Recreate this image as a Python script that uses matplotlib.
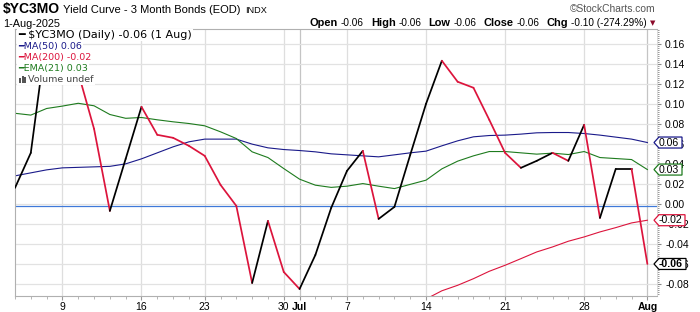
import numpy as np
import pandas as pd
import matplotlib
matplotlib.use("Agg")
import matplotlib.pyplot as plt
from matplotlib.collections import LineCollection
from matplotlib.patches import Polygon, Rectangle
from matplotlib.transforms import IdentityTransform

plt.rcParams['axes.unicode_minus'] = False

# trading days shown (Jun 19 and Jul 4 are market holidays)
dates = pd.bdate_range('2025-06-04', '2025-08-01')
dates = dates[~dates.isin(pd.to_datetime(['2025-06-19', '2025-07-04']))]

close = [0.016, 0.051, 0.170, 0.150, 0.131, 0.075, -0.007, 0.045, 0.097, 0.069,
         0.066, 0.058, 0.048, 0.019, -0.002, -0.079, -0.017, -0.068, -0.085, -0.051,
         -0.004, 0.033, 0.053, -0.015, -0.003, 0.049, 0.100, 0.143, 0.122, 0.116,
         0.084, 0.051, 0.036, 0.043, 0.051, 0.043, 0.079, -0.014, 0.035, 0.035, -0.060]
ma50 = [0.028, 0.031, 0.034, 0.036, 0.0365, 0.037, 0.0375, 0.040, 0.045, 0.051,
        0.057, 0.062, 0.0647, 0.0647, 0.0647, 0.0597, 0.056, 0.0543, 0.0533, 0.052,
        0.050, 0.049, 0.048, 0.047, 0.049, 0.051, 0.0527, 0.058, 0.063, 0.067,
        0.0683, 0.0687, 0.0697, 0.071, 0.0713, 0.0713, 0.0703, 0.0687, 0.0667, 0.0647, 0.0613]
ema21 = [0.0905, 0.0887, 0.0953, 0.0977, 0.1005, 0.098, 0.0893, 0.0855, 0.0863, 0.084,
         0.082, 0.0803, 0.078, 0.072, 0.0653, 0.052, 0.0463, 0.0353, 0.0247, 0.0187,
         0.0165, 0.0177, 0.0203, 0.0177, 0.0153, 0.0195, 0.0237, 0.035, 0.0427, 0.048,
         0.0523, 0.0523, 0.051, 0.0497, 0.0507, 0.0493, 0.0523, 0.0463, 0.0453, 0.0443, 0.0343]
ma200 = [np.nan] * 26 + [-0.095, -0.0868, -0.0813, -0.0747, -0.0673, -0.0613, -0.0547,
                         -0.048, -0.043, -0.0373, -0.033, -0.028, -0.0237, -0.019, -0.0163]
ref_line = -0.0025

RED = '#dc143c'
NAVY = '#1a1a8a'
GREEN = '#1e7b1e'

W, H = 700, 312
fig = plt.figure(figsize=(7, 3.12), dpi=100)
L, R, T, B = 15, 656.7, 29, 295.7
ax = fig.add_axes([L / W, (H - B) / H, (R - L) / W, (B - T) / H])

x = np.arange(len(dates))
ax.set_xlim(0.4, 40.59)
ax.set_ylim(-0.0917, 0.1747)

# week / month gridlines and labels
tick_pos, tick_lab, month_start = [], [], []
for i in range(1, len(dates)):
    d, p = dates[i], dates[i - 1]
    if d.month != p.month:
        tick_pos.append(i); tick_lab.append(d.strftime('%b')); month_start.append(True)
    elif d.weekday() < p.weekday():
        tick_pos.append(i); tick_lab.append(str(d.day)); month_start.append(False)
for pos, ms in zip(tick_pos, month_start):
    ax.axvline(pos, color='#c4c4c4' if ms else '#dedede', lw=0.9, zorder=0)
ax.set_yticks(np.arange(-0.08, 0.161, 0.02))
ax.set_yticks(np.arange(-0.09, 0.175, 0.002), minor=True)
ax.grid(axis='y', color='#e2e2e2', lw=0.9, zorder=0)
ax.axhline(ref_line, color='#3f79d9', lw=0.9, zorder=1)

ax.plot(x, ma50, color=NAVY, lw=0.8, zorder=2)
ax.plot(x, ema21, color=GREEN, lw=0.8, zorder=2)
ax.plot(x, ma200, color=RED, lw=0.8, zorder=2)

pts = np.column_stack([x, close])
segs = np.stack([pts[:-1], pts[1:]], axis=1)
cols = ['black' if close[i + 1] >= close[i] else RED for i in range(len(close) - 1)]
ax.add_collection(LineCollection(segs, colors=cols, linewidths=1.25, capstyle='round',
                                 joinstyle='round', zorder=3))

ax.set_xticks(tick_pos)
ax.set_xticklabels(tick_lab, fontfamily='Liberation Sans', fontsize=7.5)
for lab, ms in zip(ax.get_xticklabels(), month_start):
    if ms:
        lab.set_fontweight('bold')
ax.set_xticks(x, minor=True)
ax.tick_params(axis='x', which='major', length=3, color='#999999', pad=1.5)
ax.tick_params(axis='x', which='minor', length=2, color='#aaaaaa')
ax.yaxis.tick_right()
ax.set_yticklabels(['%.2f' % v for v in ax.get_yticks()], fontfamily='Liberation Sans', fontsize=7.5)
ax.tick_params(axis='y', which='major', length=3, color='#888888', pad=3)
ax.tick_params(axis='y', which='minor', length=1.5, width=0.7, color='#999999')
for s in ['left', 'bottom', 'top']:
    ax.spines[s].set_color('#b0b0b0')
    ax.spines[s].set_linewidth(0.8)
ax.spines['right'].set_color('#d8d8d8')
ax.spines['right'].set_linewidth(0.6)


def ftext(px, py, s, **kw):
    return fig.text(px / W, 1 - py / H, s, **kw)


renderer = fig.canvas.get_renderer()

# header
t1 = ftext(3, 13.3, '$YC3MO', fontfamily='Liberation Sans', fontweight='bold', fontsize=10, va='baseline')
x2 = 3 + t1.get_window_extent(renderer).width + 3
t2 = ftext(x2, 13.3, 'Yield Curve - 3 Month Bonds (EOD)', fontfamily='Liberation Sans', fontsize=8,
           va='baseline')
x3 = x2 + t2.get_window_extent(renderer).width + 5
ftext(x3, 13.3, 'INDX', fontfamily='Liberation Sans', fontsize=6.6, va='baseline')
ftext(3, 27, '1-Aug-2025', fontfamily='Liberation Sans', fontsize=7.8, va='baseline')
ftext(656, 12, '\u00a9StockCharts.com', fontfamily='Liberation Sans', fontsize=7.4, color='#555555',
      ha='right', va='baseline')

pieces = [('Open', True), ('-0.06', False), ('High', True), ('-0.06', False), ('Low', True),
          ('-0.06', False), ('Close', True), ('-0.06', False), ('Chg', True), ('-0.10 (-274.29%)', False)]
items = []
for s, bold in pieces:
    t = ftext(0, 26.5, s, fontfamily='Liberation Sans', fontsize=7.9 if bold else 7.2,
              fontweight='bold' if bold else 'normal', va='baseline')
    items.append((t, t.get_window_extent(renderer).width, bold))
total = sum(w for _, w, _ in items) + sum(3 if b else 7 for _, _, b in items[:-1])
cx = 646.7 - total
for t, w, bold in items:
    t.set_x(cx / W)
    cx += w + (3 if bold else 7)
ftext(652.5, 23, '\u25bc', fontsize=5, color='#8b0a2a', ha='center', va='center')

# legend rows
rows = [('\u2501 $YC3MO (Daily) -0.06 (1 Aug)', 'black', 35, 8.0),
        ('\u2501MA(50) 0.06', NAVY, 46, 6.8),
        ('\u2501MA(200) -0.02', RED, 57.2, 6.8),
        ('\u2501EMA(21) 0.03', GREEN, 68.2, 6.8)]
for s, c, yy, fs in rows:
    ftext(18, yy, s, fontfamily='DejaVu Sans', fontsize=fs, color=c, va='center',
          bbox=dict(facecolor='white', edgecolor='none', pad=0.9))
ftext(28.5, 79, 'Volume undef', fontfamily='DejaVu Sans', fontsize=6.8, color='#444444', va='center',
      bbox=dict(facecolor='white', edgecolor='none', pad=0.9))
bg = Rectangle((17, H - 84.5), 12, 10, facecolor='white', edgecolor='none')
bg.set_transform(IdentityTransform())
fig.add_artist(bg)
for bx, bh in [(19, 5), (21.7, 7), (24.4, 6)]:
    r = Rectangle((bx, H - 83), 2, bh, facecolor='#555555', edgecolor='none')
    r.set_transform(IdentityTransform())
    fig.add_artist(r)

# last-value tags on right axis
y0, y1 = ax.get_ylim()
tags = [(ma50[-1], '0.06', NAVY, False, 28), (ema21[-1], '0.03', GREEN, False, 28),
        (ma200[-1], '-0.02', RED, False, 31), (close[-1], '-0.06', 'black', True, 32)]
for v, s, c, bold, wid in tags:
    yc = (H - B) + (v - y0) / (y1 - y0) * (B - T)
    xl = 654
    poly = Polygon([(xl, yc), (xl + 5, yc - 5.5), (xl + wid, yc - 5.5), (xl + wid, yc + 5.5),
                    (xl + 5, yc + 5.5)], closed=True, facecolor='white', edgecolor=c, lw=0.9)
    poly.set_transform(IdentityTransform())
    fig.add_artist(poly)
    fig.text((xl + 5) / W, yc / H, s, fontfamily='Liberation Sans', fontsize=7.6,
             fontweight='bold' if bold else 'normal', color='black', va='center', zorder=5)

fig.savefig('out.png', dpi=100)
